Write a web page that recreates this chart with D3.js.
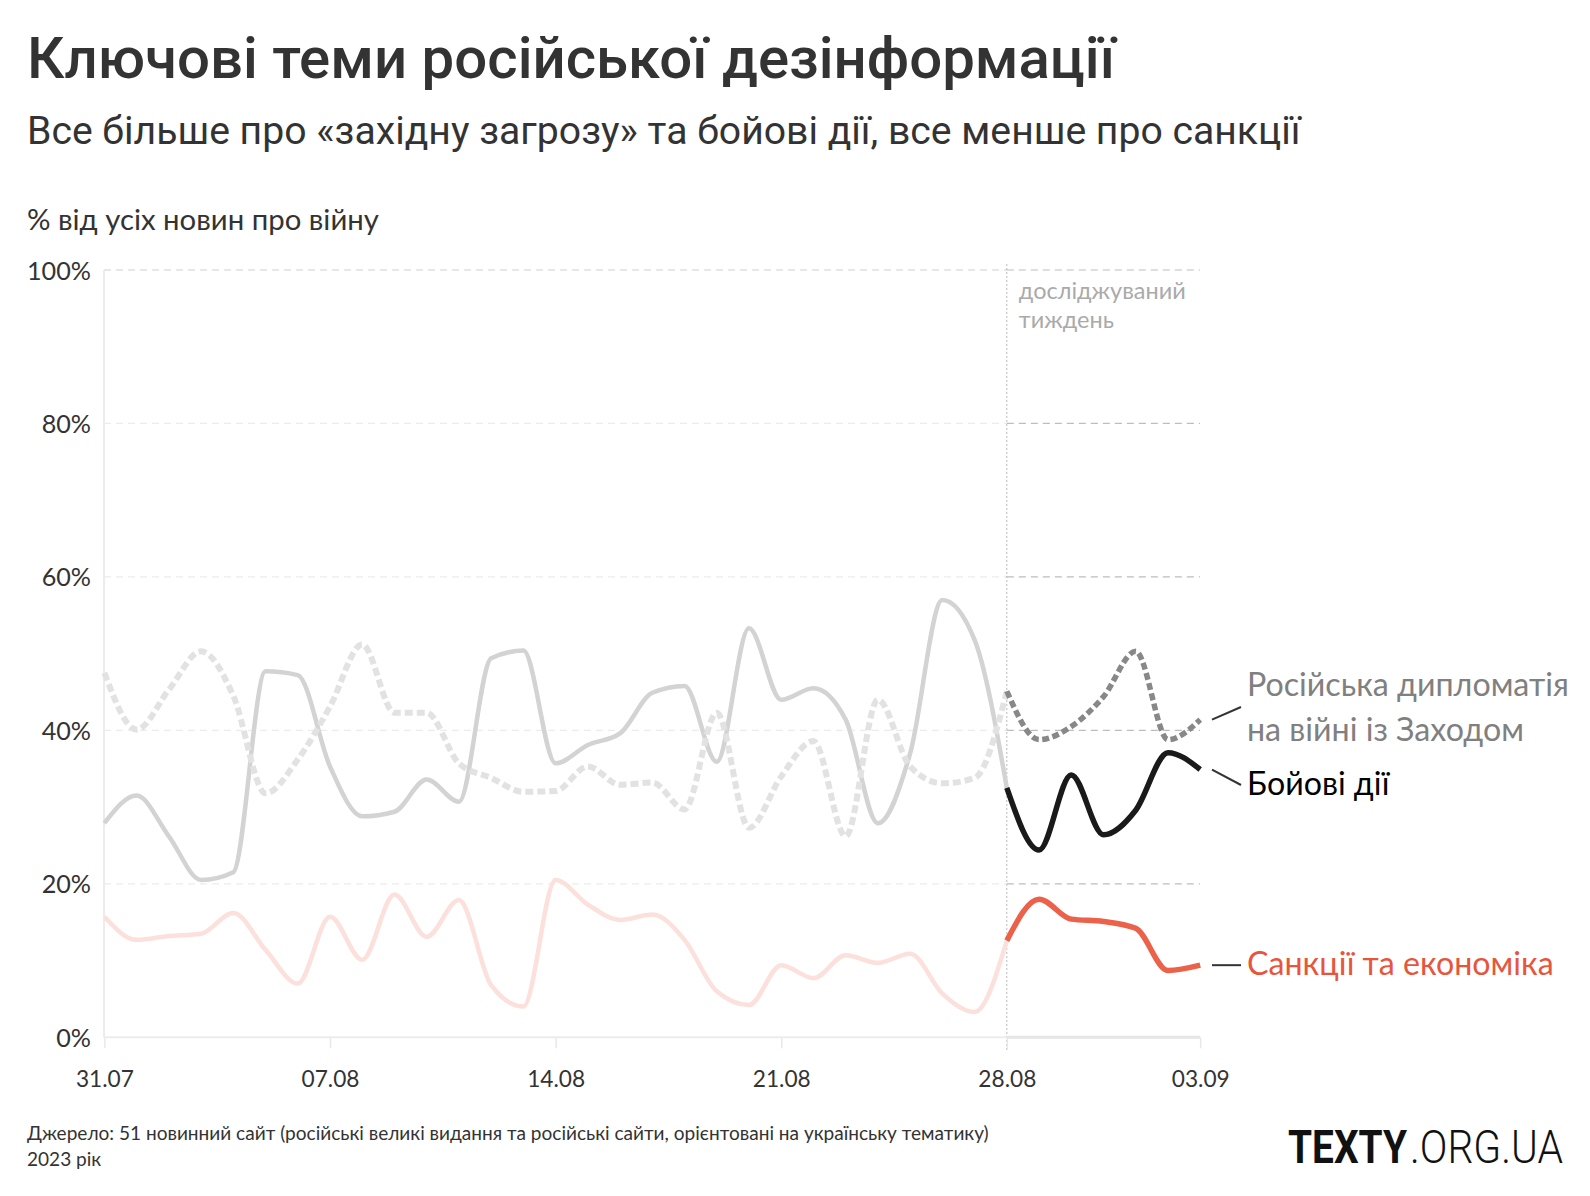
<!DOCTYPE html>
<html>
<head>
<meta charset="utf-8">
<script src="https://cdn.jsdelivr.net/npm/d3@7"></script>
<style>
  html, body { margin: 0; padding: 0; background: #fff; }
  svg { display: block; }
</style>
</head>
<body>
<svg id="chart" width="1590" height="1196"></svg>
<script>
// ---------------- DATA ----------------
const days = [
  "2023-07-31","2023-08-01","2023-08-02","2023-08-03","2023-08-04","2023-08-05","2023-08-06",
  "2023-08-07","2023-08-08","2023-08-09","2023-08-10","2023-08-11","2023-08-12","2023-08-13",
  "2023-08-14","2023-08-15","2023-08-16","2023-08-17","2023-08-18","2023-08-19","2023-08-20",
  "2023-08-21","2023-08-22","2023-08-23","2023-08-24","2023-08-25","2023-08-26","2023-08-27",
  "2023-08-28","2023-08-29","2023-08-30","2023-08-31","2023-09-01","2023-09-02","2023-09-03"
];
const combat = [27.9,31.5,26.2,20.5,21.5,47.7,47.2,35.3,28.8,29.4,33.6,30.7,49.4,50.4,35.7,38.1,39.6,44.9,45.8,35.9,53.3,44.0,45.5,41.4,27.9,37.0,57.0,51.8,32.5,24.4,34.2,26.4,29.6,37.1,34.9];
const diplomacy = [47.5,40.1,45.3,50.3,44.5,31.8,36.2,43.1,51.2,42.3,42.3,35.7,33.8,32.0,32.1,35.3,32.9,33.2,29.7,42.3,27.3,34.0,38.6,26.2,44.0,35.3,33.1,33.8,45.1,38.8,40.5,44.4,50.3,38.8,41.4];
const sanctions = [15.7,12.7,13.2,13.5,16.2,11.4,7.0,15.7,10.1,18.6,13.1,17.9,6.8,4.0,20.5,17.3,15.3,16.0,12.7,6.0,4.2,9.4,7.7,10.7,9.7,10.9,5.7,3.3,12.6,18.0,15.4,15.1,14.2,8.7,9.4];

const xTickDates = ["2023-07-31","2023-08-07","2023-08-14","2023-08-21","2023-08-28","2023-09-03"];
const xTickLabels = ["31.07","07.08","14.08","21.08","28.08","03.09"];
const yTicks = [0,20,40,60,80,100];
const studiedWeekStart = "2023-08-28";

const titleText = "Ключові теми російської дезінформації";
const subtitleText = "Все більше про «західну загрозу» та бойові дії, все менше про санкції";
const yTitleText = "% від усіх новин про війну";
const noteLines = ["досліджуваний", "тиждень"];
const labelDiplomacy = ["Російська дипломатія", "на війні із Заходом"];
const labelCombat = "Бойові дії";
const labelSanctions = "Санкції та економіка";
const sourceLines = ["Джерело: 51 новинний сайт (російські великі видання та російські сайти, орієнтовані на українську тематику)", "2023 рік"];
const logoParts = ["TEXTY", ".ORG.UA"];

// ---------------- SETUP ----------------
const parse = d3.utcParse("%Y-%m-%d");
const dates = days.map(parse);
const svg = d3.select("#chart");
const LBL = "Lato, 'Source Sans Pro', 'Noto Sans', sans-serif";

const x = d3.scaleUtc().domain([dates[0], dates[dates.length - 1]]).range([104.4, 1200.2]);
const y = d3.scaleLinear().domain([0, 100]).range([1037.3, 270]);
const splitX = x(parse(studiedWeekStart));
const split = days.indexOf(studiedWeekStart);

function fit(sel, w) {
  const cur = parseFloat(sel.attr("font-size"));
  const m = sel.node().getComputedTextLength();
  const fs = cur * w / m;
  sel.attr("font-size", fs);
  return fs;
}

// ---------------- TEXTS ----------------
const title = svg.append("text").attr("x", 27).attr("y", 78)
  .attr("font-family", "Roboto, 'Liberation Sans', sans-serif").attr("font-weight", 500)
  .attr("font-size", 50).attr("fill", "#333").text(titleText);
fit(title, 1088);

const sub = svg.append("text").attr("x", 27).attr("y", 144)
  .attr("font-family", "Roboto, 'Liberation Sans', sans-serif").attr("font-weight", 400)
  .attr("font-size", 36).attr("fill", "#333").text(subtitleText);
fit(sub, 1274);

const yt = svg.append("text").attr("x", 27).attr("y", 230)
  .attr("font-family", LBL).attr("font-size", 26).attr("fill", "#333").text(yTitleText);
fit(yt, 352);

// ---------------- GRID ----------------
const g = svg.append("g");
yTicks.filter(d => d > 0).forEach(t => {
  g.append("line").attr("x1", 104).attr("x2", splitX).attr("y1", y(t)).attr("y2", y(t))
    .attr("stroke", t === 100 ? "#cfcfcf" : "#ececec").attr("stroke-width", 1.2).attr("stroke-dasharray", "7,5");
  g.append("line").attr("x1", splitX).attr("x2", 1200).attr("y1", y(t)).attr("y2", y(t))
    .attr("stroke", "#bdbdbd").attr("stroke-width", 1.2).attr("stroke-dasharray", "7,5");
});

// left axis line
g.append("line").attr("x1", 104).attr("x2", 104).attr("y1", y(100)).attr("y2", y(0))
  .attr("stroke", "#ececec").attr("stroke-width", 2);

// studied-week vertical dotted line
g.append("line").attr("x1", splitX).attr("x2", splitX).attr("y1", 264).attr("y2", 1050)
  .attr("stroke", "#bbb").attr("stroke-width", 1).attr("stroke-dasharray", "2,2");

const note = g.append("text").attr("font-family", LBL).attr("font-size", 20).attr("fill", "#aaa");
noteLines.forEach((t, i) => note.append("tspan").attr("x", splitX + 12).attr("y", 299 + i * 29).text(t));
{
  const t0 = note.select("tspan").node();
  const m = t0.getComputedTextLength();
  note.attr("font-size", 20 * 167 / m);
}

// ---------------- AXES ----------------
const yAxis = svg.append("g").attr("transform", "translate(104,0)")
  .call(d3.axisLeft(y).tickValues(yTicks).tickFormat(d => d + "%").tickSize(0).tickPadding(13));
yAxis.select(".domain").remove();
yAxis.selectAll("text").attr("font-family", LBL).attr("font-size", 24).attr("fill", "#333").attr("dy", "0.36em");
{
  const n = yAxis.selectAll("text").nodes()[yTicks.length - 1];
  const m = n.getComputedTextLength();
  yAxis.selectAll("text").attr("font-size", 24 * 64 / m);
}

const xAxis = svg.append("g").attr("transform", `translate(0,${y(0)})`)
  .call(d3.axisBottom(x).tickValues(xTickDates.map(parse)).tickFormat((d, i) => xTickLabels[i]).tickSize(11));
xAxis.select(".domain").remove();
xAxis.selectAll(".tick line").attr("stroke", "#e8e8e8").attr("stroke-width", 1.5);
xAxis.selectAll("text").attr("font-family", LBL).attr("font-size", 24).attr("fill", "#333").attr("y", 50).attr("dy", 0);
{
  const n = xAxis.selectAll("text").nodes()[0];
  const m = n.getComputedTextLength();
  xAxis.selectAll("text").attr("font-size", 24 * 58 / m);
}
// baseline
svg.append("line").attr("x1", 104).attr("x2", splitX).attr("y1", y(0)).attr("y2", y(0))
  .attr("stroke", "#ececec").attr("stroke-width", 2);
svg.append("line").attr("x1", splitX).attr("x2", 1200).attr("y1", y(0)).attr("y2", y(0))
  .attr("stroke", "#e6e6e6").attr("stroke-width", 3);

// ---------------- LINES ----------------
const line = d3.line().x(d => x(d.date)).y(d => y(d.v)).curve(d3.curveMonotoneX);
const series = arr => arr.map((v, i) => ({ date: dates[i], v }));
const before = arr => series(arr).slice(0, split + 1);
const after = arr => series(arr).slice(split);

const lines = svg.append("g").attr("fill", "none").attr("stroke-linejoin", "round");
lines.append("path").attr("d", line(before(combat))).attr("stroke", "#d3d3d3").attr("stroke-width", 4.5);
lines.append("path").attr("d", line(before(diplomacy))).attr("stroke", "#e2e2e2").attr("stroke-width", 6).attr("stroke-dasharray", "8,4");
lines.append("path").attr("d", line(before(sanctions))).attr("stroke", "#fbe0dc").attr("stroke-width", 4.5);

lines.append("path").attr("d", line(after(diplomacy))).attr("stroke", "#888").attr("stroke-width", 5.5).attr("stroke-dasharray", "7,3.5");
lines.append("path").attr("d", line(after(combat))).attr("stroke", "#1a1a1a").attr("stroke-width", 5.5);
lines.append("path").attr("d", line(after(sanctions))).attr("stroke", "#eb6149").attr("stroke-width", 5.5);

// ---------------- LABELS ----------------
const last = days.length - 1;
const lx0 = 1212, lx1 = 1241, tx = 1247;
const leaders = [
  { v: diplomacy[last], ty: 707 },
  { v: combat[last], ty: 785 },
  { v: sanctions[last], ty: y(sanctions[last]) }
];
leaders.forEach(l => svg.append("line").attr("x1", lx0).attr("y1", y(l.v)).attr("x2", lx1).attr("y2", l.ty)
  .attr("stroke", "#333").attr("stroke-width", 2));

const dip = svg.append("text").attr("font-family", LBL).attr("font-size", 29).attr("fill", "#808080");
labelDiplomacy.forEach((t, i) => dip.append("tspan").attr("x", tx).attr("y", 696 + i * 45).text(t));
let labelFs;
{
  const m = dip.select("tspan").node().getComputedTextLength();
  labelFs = 29 * 322 / m;
  dip.attr("font-size", labelFs);
}
svg.append("text").attr("x", tx).attr("y", 795).attr("font-family", LBL).attr("font-size", labelFs)
  .attr("fill", "#000").text(labelCombat);
svg.append("text").attr("x", tx).attr("y", 975).attr("font-family", LBL).attr("font-size", labelFs)
  .attr("fill", "#e8553d").text(labelSanctions);

// ---------------- FOOTER ----------------
const src = svg.append("text").attr("font-family", LBL).attr("font-size", 20).attr("fill", "#333");
sourceLines.forEach((t, i) => src.append("tspan").attr("x", 27).attr("y", 1140 + i * 26).text(t));
{
  const m = src.select("tspan").node().getComputedTextLength();
  src.attr("font-size", 20 * 962 / m);
}

// logo: two words, horizontally condensed with a transform to fit the reference widths
function logoWord(txt, weight, left, width) {
  const grp = svg.append("g");
  const t = grp.append("text").attr("x", 0).attr("y", 0)
    .attr("font-family", "Roboto, 'Liberation Sans', sans-serif").attr("font-size", 46)
    .attr("font-weight", weight).attr("fill", "#111").text(txt);
  const m = t.node().getComputedTextLength();
  grp.attr("transform", `translate(${left},1163) scale(${width / m},1)`);
}
logoWord(logoParts[0], 700, 1288, 119);
logoWord(logoParts[1], 300, 1410, 153);
</script>
</body>
</html>
